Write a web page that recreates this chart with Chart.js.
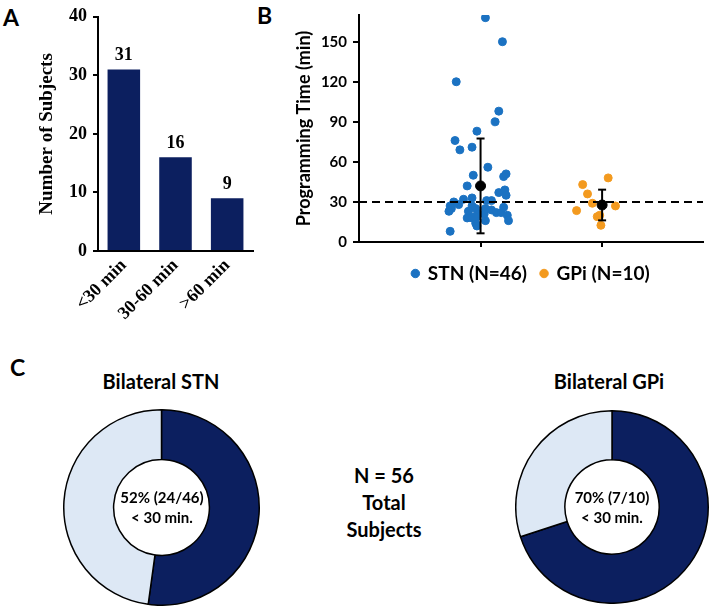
<!DOCTYPE html>
<html>
<head>
<meta charset="utf-8">
<script src="https://cdn.jsdelivr.net/npm/chart.js@4.4.1/dist/chart.umd.min.js"></script>
<style>
  body { margin: 0; background: #fff; }
  #page { position: relative; width: 709px; height: 607px; overflow: hidden; font-family: Lato, sans-serif; color: #000; }
  .box { position: absolute; }
  .tag { position: absolute; font: bold 23px Lato, sans-serif; line-height: 1; }
  .ttl { position: absolute; width: 200px; text-align: center; font: bold 20px Lato, sans-serif; line-height: 1; }
  .mid { position: absolute; width: 120px; text-align: center; font: bold 15px Lato, sans-serif; line-height: 20px; }
  .total { position: absolute; width: 120px; text-align: center; font: bold 20px Lato, sans-serif; line-height: 27px; }
</style>
</head>
<body>
<div id="page">
  <div class="tag" style="left:3px; top:6px;">A</div>
  <div class="tag" style="left:257px; top:4px;">B</div>
  <div class="tag" style="left:10px; top:356px;">C</div>

  <div class="box" style="left:0; top:0; width:262px; height:345px;"><canvas id="chart-a"></canvas></div>
  <div class="box" style="left:240px; top:0; width:469px; height:293px;"><canvas id="chart-b"></canvas></div>

  <div class="ttl" style="left:61px; top:371px;">Bilateral STN</div>
  <div class="ttl" style="left:509px; top:371px;">Bilateral GPi</div>

  <div class="box" style="left:63px; top:409px; width:197px; height:197px;"><canvas id="chart-stn"></canvas></div>
  <div class="box" style="left:515px; top:410px; width:194px; height:194px;"><canvas id="chart-gpi"></canvas></div>

  <div class="mid" style="left:102px; top:487px;">52% (24/46)<br>&lt; 30 min.</div>
  <div class="mid" style="left:552px; top:487px;">70% (7/10)<br>&lt; 30 min.</div>
  <div class="total" style="left:324px; top:462px;">N = 56<br>Total<br>Subjects</div>
</div>

<script>
// Painel A - pacientes por faixa de tempo
const sizeCats = ['<30 min', '30-60 min', '>60 min'];
const sizeCounts = [31, 16, 9];

// Painel B - tempo de programação (min) e deslocamento horizontal
const stnTimes = [168, 150, 120, 98, 90, 83, 76, 69, 71, 56, 50, 49, 51, 42,
                  37, 39, 35, 33, 32, 31, 31, 30,
                  27, 25, 23, 27, 25, 23, 25, 24, 22, 22, 26, 20, 16, 18, 18, 19, 14, 12, 16, 21, 21, 8, 28, 19];
const stnJitter = [0.04, 0.18, -0.20, 0.15, 0.12, -0.03, -0.21, -0.17, -0.07, 0.06, -0.06, 0.19, 0.21, -0.11,
                   0.15, 0.20, 0.21, -0.07, -0.14, 0.05, 0.09, -0.22,
                   -0.25, -0.24, -0.26, -0.07, -0.04, -0.10, 0.04, 0.09, 0.13, 0.17, 0.19, 0.22, 0.23, -0.11, -0.07, -0.03, -0.04, -0.03, 0.04, 0.03, -0.02, -0.25, -0.18, -0.05];
const gpiTimes = [43, 48, 36, 29, 23.5, 27, 19, 20, 12.5, 28];
const gpiJitter = [-0.16, 0.05, -0.12, -0.08, -0.21, 0.11, -0.04, -0.02, -0.01, 0.0];
const groupMean = [42, 27.7];
const groupSd = [35.5, 11.5];
const cutoffMin = 30;
const yTicksB = [0, 30, 60, 90, 120, 150];

// Painel C - proporção < 30 min
const splitLabels = ['< 30 min', '>= 30 min'];
const stnSplit = [24, 22];
const gpiSplit = [7, 3];

const NAVY = '#0c1f5f';
const LIGHT = '#dde8f5';
const BLUE = '#1b72c2';
const ORANGE = '#f39a1f';
const SERIF = '"Liberation Serif", "Times New Roman", serif';
const SANS = 'Lato, sans-serif';

Chart.defaults.animation = false;
Chart.defaults.color = '#000';

// escreve o valor em cima de cada barra
const barValueLabels = {
    id: 'barValueLabels',
    afterDatasetsDraw(chart) {
        const ctx = chart.ctx;
        const meta = chart.getDatasetMeta(0);
        ctx.save();
        ctx.font = 'bold 18px ' + SERIF;
        ctx.fillStyle = '#000';
        ctx.textAlign = 'center';
        ctx.textBaseline = 'alphabetic';
        meta.data.forEach((bar, i) => {
            ctx.fillText(String(chart.data.datasets[0].data[i]), bar.x, bar.y - 9);
        });
        ctx.restore();
    }
};

new Chart(document.getElementById('chart-a'), {
    type: 'bar',
    data: {
        labels: sizeCats,
        datasets: [{
            data: sizeCounts,
            backgroundColor: NAVY,
            barPercentage: 0.63,
            categoryPercentage: 1
        }]
    },
    options: {
        responsive: true, maintainAspectRatio: false,
        events: [],
        layout: { padding: { left: 36, top: 10, right: 9, bottom: 0 } },
        plugins: { legend: { display: false }, tooltip: { enabled: false } },
        scales: {
            y: {
                min: 0, max: 40,
                ticks: { stepSize: 10, font: { family: SERIF, size: 18, weight: 'bold' }, padding: 6 },
                grid: { drawOnChartArea: false, color: '#000', lineWidth: 2, tickLength: 5 },
                border: { color: '#000', width: 2 },
                title: { display: true, text: 'Number of Subjects', font: { family: SERIF, size: 19, weight: 'bold' }, padding: 0 },
                afterFit: s => { s.width = 62; }
            },
            x: {
                ticks: { minRotation: 45, maxRotation: 45, font: { family: SERIF, size: 18, weight: 'bold' }, padding: 4 },
                grid: { display: true, drawOnChartArea: false, drawTicks: false },
                border: { color: '#000', width: 2 },
                afterFit: s => { s.height = 94; }
            }
        }
    },
    plugins: [barValueLabels]
});

// painel B
const stnPoints = stnTimes.map((v, i) => ({ x: 1 + stnJitter[i], y: v }));
const gpiPoints = gpiTimes.map((v, i) => ({ x: 2 + gpiJitter[i], y: v }));

function errorBar(g) {
    return {
        label: 'sd' + g,
        data: [{ x: g + 1, y: groupMean[g] - groupSd[g] }, { x: g + 1, y: groupMean[g] + groupSd[g] }],
        showLine: true,
        borderColor: '#000',
        borderWidth: 2,
        pointStyle: 'line',
        pointRadius: 4,
        pointBorderWidth: 2,
        pointBorderColor: '#000'
    };
}

const xMaxB = 2.83;

new Chart(document.getElementById('chart-b'), {
    type: 'scatter',
    data: {
        datasets: [
            errorBar(0),
            errorBar(1),
            {
                label: 'mean',
                data: groupMean.map((m, g) => ({ x: g + 1, y: m })),
                backgroundColor: '#000', borderColor: '#000', pointRadius: 5
            },
            {
                label: 'cutoff',
                data: [{ x: 0, y: cutoffMin }, { x: xMaxB, y: cutoffMin }],
                showLine: true, borderColor: '#000', borderWidth: 2, borderDash: [8, 5], pointRadius: 0
            },
            { label: 'STN (N=46)', data: stnPoints, backgroundColor: BLUE, borderColor: BLUE, pointRadius: 4 },
            { label: 'GPi (N=10)', data: gpiPoints, backgroundColor: ORANGE, borderColor: ORANGE, pointRadius: 4 }
        ]
    },
    options: {
        responsive: true, maintainAspectRatio: false,
        events: [],
        layout: { padding: { left: 53, top: 4, right: 4, bottom: 0 } },
        plugins: {
            tooltip: { enabled: false },
            legend: {
                position: 'bottom',
                fullSize: false,
                labels: {
                    filter: item => item.text === 'STN (N=46)' || item.text === 'GPi (N=10)',
                    usePointStyle: true, pointStyle: 'circle',
                    boxWidth: 6, boxHeight: 6,
                    padding: 14,
                    font: { family: SANS, size: 19, weight: 'bold' }
                }
            }
        },
        scales: {
            y: {
                min: 0, max: 170,
                afterBuildTicks: s => { s.ticks = yTicksB.map(v => ({ value: v })); },
                ticks: { font: { family: SANS, size: 15, weight: 'bold' }, padding: 6 },
                grid: { drawOnChartArea: false, color: '#000', lineWidth: 2, tickLength: 6 },
                border: { color: '#000', width: 2 },
                title: { display: true, text: 'Programming Time (min)', font: { family: SANS, size: 18, weight: 'bold' }, padding: 0 },
                afterFit: s => { s.width = 66; }
            },
            x: {
                type: 'linear', min: 0, max: xMaxB,
                afterBuildTicks: s => { s.ticks = [{ value: 1 }, { value: 2 }]; },
                ticks: { callback: () => '', padding: 0 },
                grid: { drawOnChartArea: false, color: '#000', lineWidth: 2, tickLength: 5 },
                border: { color: '#000', width: 2 },
                afterFit: s => { s.height = 8; }
            }
        }
    }
});

// painel C
function donut(id, values) {
    new Chart(document.getElementById(id), {
        type: 'doughnut',
        data: {
            labels: splitLabels,
            datasets: [{
                data: values,
                backgroundColor: [NAVY, LIGHT],
                borderColor: '#000',
                borderWidth: 1.5
            }]
        },
        options: {
            responsive: true, maintainAspectRatio: false,
            events: [],
            cutout: '49%',
            plugins: { legend: { display: false }, tooltip: { enabled: false } }
        }
    });
}
donut('chart-stn', stnSplit);
donut('chart-gpi', gpiSplit);
</script>
</body>
</html>
